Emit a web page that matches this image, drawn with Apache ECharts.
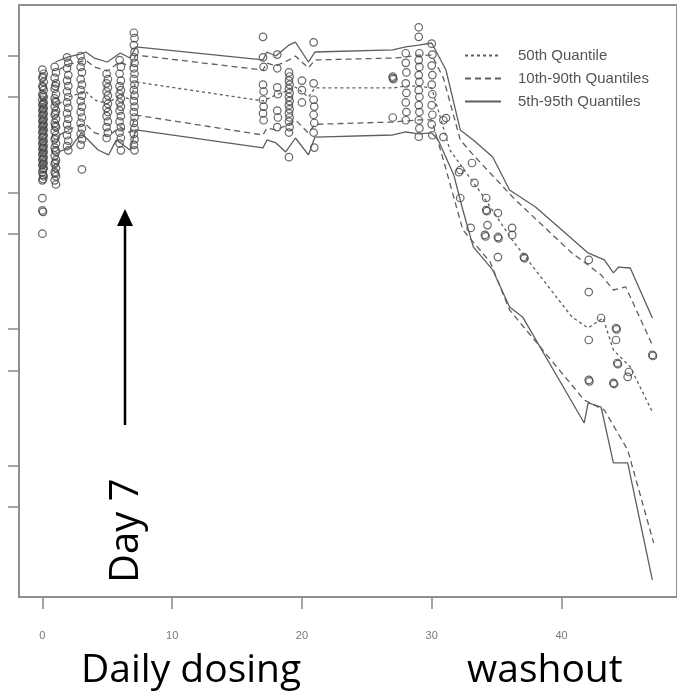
<!DOCTYPE html>
<html>
<head>
<meta charset="utf-8">
<script src="https://cdn.jsdelivr.net/npm/echarts@6/dist/echarts.min.js"></script>
<style>html,body{margin:0;padding:0;background:#fff;}#chart{width:677px;height:693px;}</style>
</head>
<body>
<div id="chart"></div>
<script>
// x: day, y: log10 concentration
const xTicks = [0, 10, 20, 30, 40];
const yTickValues = [0, 0.301, 1, 1.301, 2, 2.301, 3, 3.301];

const q50 = [[1.3,2.95],[2.0,3.00],[3.0,3.03],[3.35,3.04],[4.0,2.98],[5.0,2.95],[6.0,3.02],[6.75,2.98],[7.2,3.11],
  [17.0,2.971],[18.0,3.015],[19.0,3.051],[19.5,3.073],[20.5,3.0],[21.0,3.066],[27.0,3.066],[28.0,3.08],[29.0,3.08],[30.0,3.066],
  [31.4,2.612],[33.9,2.283],[36.2,1.954],[40.8,1.391],[42.05,1.31],[43.2,1.383],[44.0,1.149],[45.3,1.025],[47.0,0.696]];
const q90 = [[1.3,3.20],[2.0,3.24],[3.0,3.26],[3.35,3.27],[4.0,3.22],[5.0,3.19],[6.0,3.26],[6.75,3.22],[7.2,3.307],
  [17.0,3.197],[17.3,3.249],[18.0,3.227],[19.0,3.271],[19.5,3.30],[20.5,3.212],[21.0,3.271],[27.0,3.285],[28.0,3.293],[29.0,3.307],[30.0,3.307],
  [30.9,3.139],[32.2,2.686],[33.2,2.576],[34.5,2.444],[36.45,2.247],[40.8,1.859],[42.05,1.771],[43.05,1.698],[44.0,1.588],[44.95,1.61],[47.0,1.186]];
const q10 = [[1.3,2.72],[2.0,2.76],[3.0,2.80],[3.35,2.80],[4.0,2.74],[5.0,2.71],[6.0,2.78],[6.75,2.74],[7.2,2.868],
  [17.0,2.722],[17.3,2.773],[18.0,2.759],[19.0,2.80],[19.5,2.832],[20.5,2.737],[21.0,2.80],[27.0,2.817],[28.0,2.824],[29.0,2.832],[30.0,2.832],
  [30.9,2.539],[32.4,2.027],[34.5,1.793],[36.0,1.442],[41.75,0.783],[43.3,0.71],[45.1,0.418],[47.1,-0.262]];
const q95 = [[1.0,3.256],[2.0,3.293],[3.0,3.315],[3.35,3.329],[4.0,3.285],[5.0,3.256],[6.0,3.322],[6.75,3.285],[7.2,3.366],
  [17.0,3.271],[17.3,3.329],[18.0,3.30],[19.0,3.38],[19.5,3.402],[20.5,3.256],[21.0,3.329],[27.0,3.344],[28.0,3.366],[29.0,3.38],[30.0,3.395],
  [31.1,3.197],[32.2,2.759],[33.2,2.686],[34.7,2.561],[36.0,2.32],[38.0,2.195],[42.05,1.859],[43.3,1.808],[44.0,1.713],[44.4,1.756],[45.3,1.749],[47.0,1.383]];
const q05 = [[1.3,2.60],[2.2,2.634],[3.0,2.737],[4.3,2.612],[5.1,2.576],[5.7,2.686],[6.75,2.612],[7.2,2.759],
  [17.0,2.627],[17.3,2.686],[18.0,2.664],[18.75,2.598],[19.5,2.70],[20.5,2.576],[21.0,2.707],[27.0,2.722],[28.0,2.744],[29.0,2.73],[30.0,2.737],
  [30.5,2.686],[31.7,2.43],[32.4,2.173],[33.2,1.903],[34.7,1.735],[36.0,1.464],[37.0,1.391],[41.75,0.615],[42.05,0.762],[43.05,0.732],[44.0,0.323],[45.1,0.323],[47.0,-0.533]];

const obsDosing = [
  [0,3.20],[0.1,3.17],[0,3.14],[0.1,3.11],[0,3.08],[0.1,3.05],[0,3.02],[0.1,3.00],[0,2.98],[0.1,2.96],[0,2.94],[0.1,2.92],[0,2.90],[0.1,2.88],
  [0,2.86],[0.1,2.84],[0,2.82],[0.1,2.80],[0,2.78],[0.1,2.76],[0,2.74],[0.1,2.72],[0,2.70],[0.1,2.68],[0,2.66],[0.1,2.64],[0,2.62],[0.1,2.60],
  [0,2.58],[0.1,2.56],[0,2.54],[0.1,2.52],[0,2.50],[0.1,2.48],[0,2.45],[0.1,2.42],[0,2.39],[0,2.26],[0,2.17],[0.05,2.16],[0,2.0],
  [0.05,3.15],[0.05,3.07],[0.05,3.01],[0.05,2.95],[0.05,2.91],[0.05,2.87],[0.05,2.83],[0.05,2.79],[0.05,2.75],[0.05,2.71],[0.05,2.67],
  [0.05,2.63],[0.05,2.59],[0.05,2.55],[0.05,2.51],[0.05,2.47],[0.05,2.43],[0.05,2.40],
  [0.95,3.22],[1.05,3.18],[0.95,3.14],[1.05,3.10],[0.95,3.06],[1.05,3.02],[0.95,2.99],[1.05,2.96],[0.95,2.93],[1.05,2.90],[0.95,2.87],[1.05,2.84],
  [0.95,2.81],[1.05,2.78],[0.95,2.75],[1.05,2.72],[0.95,2.69],[1.05,2.66],[0.95,2.63],[1.05,2.60],[0.95,2.57],[1.05,2.54],[0.95,2.51],[1.05,2.48],
  [0.95,2.45],[1.05,2.42],[0.95,2.39],[1.05,2.36],
  [1.0,3.08],[1.0,2.97],[1.0,2.88],[1.0,2.79],[1.0,2.70],[1.0,2.61],[1.0,2.52],[1.0,2.44],
  [1.9,3.29],[2.0,3.25],[1.9,3.21],[2.0,3.16],[1.9,3.12],[2.0,3.08],[1.9,3.04],[2.0,3.00],[1.9,2.96],[2.0,2.92],[1.9,2.88],[2.0,2.84],[1.9,2.80],
  [2.0,2.76],[1.9,2.72],[2.0,2.68],[1.9,2.64],[2.0,2.61],
  [2.95,3.30],[3.05,3.26],[2.95,3.22],[3.05,3.18],[2.95,3.13],[3.05,3.09],[2.95,3.05],[3.05,3.01],[2.95,2.97],[3.05,2.93],[2.95,2.89],[3.05,2.85],
  [2.95,2.81],[3.05,2.77],[2.95,2.73],[3.05,2.69],[2.95,2.65],[3.05,2.47],
  [4.95,3.17],[5.05,3.13],[4.95,3.10],[5.05,3.07],[4.95,3.04],[5.05,3.01],[4.95,2.98],[5.05,2.95],[4.95,2.92],[5.05,2.89],[4.95,2.86],[5.05,2.82],
  [4.95,2.78],[5.05,2.74],[4.95,2.70],
  [5.95,3.27],[6.05,3.22],[5.95,3.17],[6.05,3.12],[5.95,3.08],[6.05,3.05],[5.95,3.02],[6.05,2.99],[5.95,2.96],[6.05,2.93],[5.95,2.90],[6.05,2.86],
  [5.95,2.82],[6.05,2.78],[5.95,2.74],[6.05,2.70],[5.95,2.66],[6.05,2.61],
  [7.05,3.47],[7.1,3.43],[7.05,3.38],[7.1,3.33],[7.05,3.29],[7.1,3.25],[7.05,3.21],[7.1,3.17],[7.05,3.13],[7.1,3.09],[7.05,3.05],[7.1,3.01],
  [7.05,2.97],[7.1,2.93],[7.05,2.89],[7.1,2.85],[7.05,2.81],[7.1,2.77],[7.05,2.73],[7.1,2.69],[7.05,2.65],[7.1,2.61]
];
const obsMaintenance = [
  [17.0,3.44],[17.0,3.29],[17.05,3.22],[17.0,3.09],[17.05,3.04],[17.0,2.98],[17.05,2.93],[17.0,2.88],[17.05,2.83],
  [18.1,3.31],[18.1,3.21],[18.1,3.07],[18.15,3.02],[18.1,2.90],[18.15,2.85],[18.1,2.78],
  [19.0,3.18],[19.05,3.15],[19.0,3.12],[19.05,3.09],[19.0,3.06],[19.05,3.03],[19.0,3.00],[19.05,2.97],[19.0,2.94],[19.05,2.91],[19.0,2.88],
  [19.05,2.85],[19.0,2.82],[19.05,2.78],[19.0,2.74],[19.0,2.56],
  [20.0,3.12],[20.0,3.05],[20.0,2.96],
  [20.9,3.40],[20.9,3.10],[20.9,2.98],[20.95,2.93],[20.9,2.87],[20.95,2.81],[20.9,2.74],[20.95,2.63],
  [27.0,3.14],[27.05,3.13],[27.0,3.15],[27.0,2.85],
  [28.0,3.32],[28.0,3.25],[28.05,3.18],[28.0,3.10],[28.05,3.03],[28.0,2.96],[28.05,2.89],[28.0,2.83],
  [29.0,3.51],[29.0,3.44],[29.05,3.32],[29.0,3.27],[29.05,3.22],[29.0,3.16],[29.05,3.11],[29.0,3.05],[29.05,3.00],[29.0,2.94],[29.05,2.89],
  [29.0,2.83],[29.05,2.77],[29.0,2.71],
  [30.0,3.39],[30.05,3.31],[30.0,3.23],[30.05,3.16],[30.0,3.09],[30.05,3.02],[30.0,2.94],[30.05,2.87],[30.0,2.80],[30.05,2.72],
  [30.9,2.83],[31.1,2.846],[30.9,2.707]
];
const obsWashout = [
  [32.1,2.45],[32.2,2.466],[33.1,2.517],[33.3,2.371],[32.2,2.261],[34.2,2.261],[34.2,2.173],[34.25,2.165],[35.1,2.151],
  [33.0,2.042],[34.3,2.063],[34.1,1.991],[34.15,1.98],[35.1,1.976],[35.15,1.966],[36.2,2.042],[36.2,1.991],[35.1,1.829],[37.1,1.829],[37.15,1.82],
  [42.1,1.808],[42.1,1.573],[43.05,1.383],[42.1,1.222],[44.2,1.31],[44.25,1.30],[44.2,1.222],[44.3,1.054],[44.35,1.045],[45.2,0.988],[45.1,0.952],
  [42.1,0.93],[42.15,0.92],[44.0,0.908],[44.05,0.9],[47.0,1.113],[47.05,1.105]
];

const lineColor = '#5e5e5e';
function qLine(name, data, type) {
  return {
    name: name, type: 'line', data: data, symbol: 'none', showSymbol: false, silent: true,
    lineStyle: { color: lineColor, width: 1.3, type: type }, itemStyle: { color: lineColor }, z: 3
  };
}
function obs(data) {
  return {
    type: 'scatter', data: data, symbol: 'circle', symbolSize: 7.5, silent: true,
    itemStyle: { color: 'rgba(255,255,255,0)', borderColor: '#404040', borderWidth: 1.2 }, z: 2
  };
}

const chart = echarts.init(document.getElementById('chart'), null, { renderer: 'canvas' });
chart.setOption({
  animation: false,
  backgroundColor: '#fff',
  grid: { left: 19, top: 5, right: -10, bottom: 96, show: true, borderColor: '#8f8f8f', borderWidth: 2, containLabel: false },
  xAxis: {
    type: 'value', min: -1.8, max: 48.9,
    axisLine: { show: false, onZero: false },
    axisTick: { show: true, inside: false, length: 12, lineStyle: { color: '#888', width: 1.5 }, customValues: xTicks },
    axisLabel: { show: true, color: '#777', fontSize: 11, margin: 33, fontFamily: 'Liberation Sans', customValues: xTicks },
    splitLine: { show: false }
  },
  yAxis: {
    type: 'value', min: -0.658, max: 3.673,
    axisLine: { show: false, onZero: false },
    axisTick: { show: true, inside: false, length: 11, lineStyle: { color: '#888', width: 1.5 }, customValues: yTickValues },
    axisLabel: { show: false },
    splitLine: { show: false }
  },
  legend: {
    data: ['50th Quantile', '10th-90th Quantiles', '5th-95th Quantiles'],
    orient: 'vertical', left: 459, top: 43, itemWidth: 36, itemHeight: 10, itemGap: 8,
    itemStyle: { opacity: 0 },
    textStyle: { color: '#555', fontSize: 15, fontFamily: 'Liberation Sans', padding: [0, 0, 0, 12] },
    selectedMode: false
  },
  series: [
    obs(obsDosing), obs(obsMaintenance), obs(obsWashout),
    qLine('50th Quantile', q50, [3, 3]),
    qLine('10th-90th Quantiles', q90, [6, 4]),
    qLine('10th-90th Quantiles', q10, [6, 4]),
    qLine('5th-95th Quantiles', q95, 'solid'),
    qLine('5th-95th Quantiles', q05, 'solid')
  ],
  graphic: [
    { type: 'line', shape: { x1: 125, y1: 425, x2: 125, y2: 222 }, style: { stroke: '#000', lineWidth: 2.5 }, z: 10 },
    { type: 'polygon', shape: { points: [[125, 209], [117, 226], [133, 226]] }, style: { fill: '#000' }, z: 10 },
    { type: 'text', x: 147, y: 583, rotation: Math.PI / 2, z: 10,
      style: { text: 'Day 7', fill: '#000', font: '40px "Open Sans", "Noto Sans", sans-serif', textVerticalAlign: 'bottom' } },
    { type: 'text', x: 81, y: 651, z: 10,
      style: { text: 'Daily dosing', fill: '#000', font: '39px "Open Sans", "Noto Sans", sans-serif' } },
    { type: 'text', x: 467, y: 651, z: 10,
      style: { text: 'washout', fill: '#000', font: '39px "Open Sans", "Noto Sans", sans-serif' } }
  ]
});
</script>
</body>
</html>
